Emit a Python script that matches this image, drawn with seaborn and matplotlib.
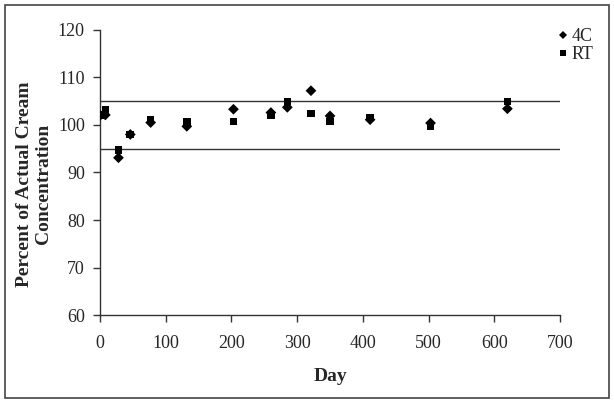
import pandas as pd
import seaborn as sns
import matplotlib.pyplot as plt
from matplotlib.patches import Rectangle

# values
days = [0, 8, 28, 46, 77, 132, 203, 260, 285, 321, 350, 411, 503, 620]
pct_4c = [102.0, 102.1, 93.1, 98.0, 100.5, 99.7, 103.3, 102.6, 103.7, 107.2, 101.9, 101.1, 100.4, 103.4]
pct_rt = [102.1, 103.2, 94.7, 98.0, 101.0, 100.7, 100.7, 102.1, 104.9, 102.4, 100.7, 101.6, 99.8, 104.9]
limits = [95, 105]

df = pd.concat([
    pd.DataFrame({"Day": days, "Percent": pct_4c, "Condition": "4C"}),
    pd.DataFrame({"Day": days, "Percent": pct_rt, "Condition": "RT"}),
])

sns.set_style("ticks")
plt.rcParams["font.family"] = ["Liberation Serif", "DejaVu Serif"]

fig = plt.figure(figsize=(6.14, 4.03), dpi=100)
ax = fig.add_axes([0.163, 0.218, 0.749, 0.708])

for lim in limits:
    ax.axhline(lim, color="#333333", lw=1.0, zorder=1)

sns.scatterplot(data=df, x="Day", y="Percent", style="Condition",
                markers={"4C": "D", "RT": "s"}, color="black",
                s=30, edgecolor="black", linewidth=0, ax=ax, zorder=3)

ax.set_xlim(0, 700)
ax.set_ylim(60, 120)
ax.set_xticks(range(0, 701, 100))
ax.set_yticks(range(60, 121, 10))
ax.tick_params(labelsize=13, length=5, width=1, direction="out", pad=9, color="#333333")
ax.tick_params(axis="y", pad=6)
sns.despine(ax=ax)
for sp in ["left", "bottom"]:
    ax.spines[sp].set_color("#333333")
    ax.spines[sp].set_linewidth(1.0)

ax.set_xlabel("Day", fontsize=14, fontweight="bold", labelpad=12)
ax.set_ylabel("Percent of Actual Cream\nConcentration", fontsize=14,
              fontweight="bold")
ax.yaxis.set_label_coords(-0.104, 0.46)

handles, labels = ax.get_legend_handles_labels()
ax.legend(handles, labels, loc="upper left", bbox_to_anchor=(558 / 614, 1 - 28 / 403),
          bbox_transform=fig.transFigure, frameon=False, fontsize=13,
          borderpad=0, borderaxespad=0, handlelength=0.6, handletextpad=0.15,
          labelspacing=0.05, markerscale=0.8)

# outer border of the chart area
fig.patches.append(Rectangle((0.008, 0.012), 0.984, 0.976, transform=fig.transFigure,
                             fill=False, edgecolor="#444444", lw=1.2))

fig.savefig("out.png", dpi=100)
